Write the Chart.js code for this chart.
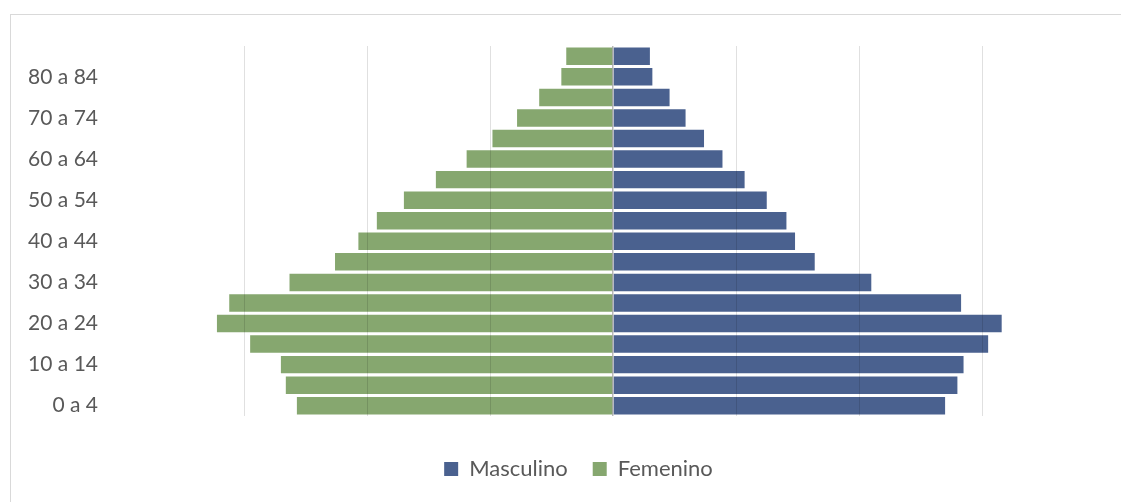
<!DOCTYPE html>
<html lang="es">
<head>
  <meta charset="UTF-8">
  <title>Pirámide de población</title>
  <style>
    body {
      margin: 0;
      background: #fff;
      overflow: hidden;
    }

    /* marco del gráfico (sale por la derecha y por abajo) */
    .marco {
      position: absolute;
      left: 10px;
      top: 14px;
      width: 1300px;
      height: 700px;
      border: 1px solid #d9d9d9;
    }

    #piramide {
      position: absolute;
      left: 0;
      top: 0;
    }
  </style>
</head>
<body>
  <div class="marco"></div>
  <canvas id="piramide" width="1121" height="502"></canvas>

  <script src="https://cdn.jsdelivr.net/npm/chart.js"></script>
  <script>
    // grupos de edad, de abajo hacia arriba
    const grupos = [
      "0 a 4", "5 a 9", "10 a 14", "15 a 19", "20 a 24", "25 a 29",
      "30 a 34", "35 a 39", "40 a 44", "45 a 49", "50 a 54", "55 a 59",
      "60 a 64", "65 a 69", "70 a 74", "75 a 79", "80 a 84", "85 y más"
    ];

    const masculino = [
      2.70, 2.80, 2.85, 3.05, 3.16, 2.83,
      2.10, 1.64, 1.48, 1.41, 1.25, 1.07,
      0.89, 0.74, 0.59, 0.46, 0.32, 0.30
    ];

    const femenino = [
      2.57, 2.66, 2.70, 2.95, 3.22, 3.12,
      2.63, 2.26, 2.07, 1.92, 1.70, 1.44,
      1.19, 0.98, 0.78, 0.60, 0.42, 0.38
    ];

    // líneas verticales de la cuadrícula
    const marcasX = [-3, -2, -1, 0, 1, 2, 3];

    const gris = '#595959';

    // la leyenda va un poco más a la derecha que el centro del lienzo
    const moverLeyenda = {
      id: 'moverLeyenda',
      afterLayout(chart) {
        chart.legend.left += 26;
        chart.legend.right += 26;
      }
    };

    const ctx = document.getElementById('piramide').getContext('2d');
    new Chart(ctx, {
      type: 'bar',
      data: {
        labels: grupos,
        datasets: [
          {
            label: 'Masculino',
            data: masculino,
            backgroundColor: '#4a618f',
            borderWidth: 0
          },
          {
            label: 'Femenino',
            data: femenino.map(v => -v), // lado izquierdo
            backgroundColor: '#86a76f',
            borderWidth: 0
          }
        ]
      },
      options: {
        indexAxis: 'y',
        responsive: false,
        animation: false,
        datasets: {
          bar: { categoryPercentage: 0.85, barPercentage: 1 }
        },
        layout: {
          padding: { top: 46, right: 16, bottom: 12, left: 0 }
        },
        scales: {
          x: {
            stacked: true,
            min: -4,
            max: 4,
            afterBuildTicks(scale) {
              scale.ticks = marcasX.map(v => ({ value: v }));
            },
            afterFit(scale) {
              scale.height = 17;
            },
            ticks: { display: false },
            border: { display: false },
            grid: {
              z: 1,
              drawTicks: false,
              color: c => c.tick && c.tick.value === 0 ? 'rgba(0,0,0,0.28)' : 'rgba(0,0,0,0.12)',
              lineWidth: c => c.tick && c.tick.value === 0 ? 1.5 : 1
            }
          },
          y: {
            stacked: true,
            reverse: true,
            afterFit(scale) {
              scale.width = 121;
            },
            grid: { display: false, drawTicks: false },
            border: { display: false },
            ticks: {
              autoSkip: false,
              padding: 23,
              color: gris,
              font: { family: 'Lato', size: 21 },
              // sólo un grupo de cada dos lleva etiqueta
              callback: (val, i) => i % 2 === 0 ? grupos[i] : ''
            }
          }
        },
        plugins: {
          tooltip: { enabled: false },
          legend: {
            position: 'bottom',
            labels: {
              boxWidth: 14,
              boxHeight: 14,
              padding: 25,
              color: gris,
              font: { family: 'Lato', size: 22 }
            }
          }
        }
      },
      plugins: [moverLeyenda]
    });
  </script>
</body>
</html>
